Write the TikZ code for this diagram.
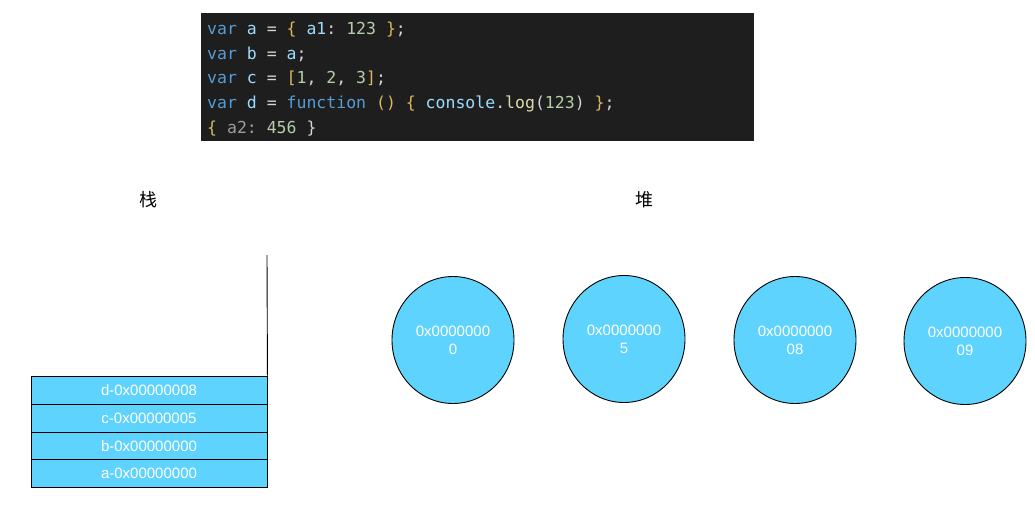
\documentclass[tikz,border=0pt]{standalone}
\usepackage{fontspec}
\usetikzlibrary{shapes.geometric}
\setmainfont{Liberation Sans}
\newfontfamily\cjk{Noto Sans CJK SC}
\newfontfamily\codefont{DejaVu Sans Mono}
\definecolor{codebg}{HTML}{1E1E1E}
\definecolor{ckwc}{HTML}{569CD6}
\definecolor{cidc}{HTML}{9CDCFE}
\definecolor{cnumc}{HTML}{B5CEA8}
\definecolor{cpunc}{HTML}{D4D4D4}
\definecolor{cbrc}{HTML}{D9B95C}
\definecolor{cfnc}{HTML}{DCDCAA}
\definecolor{cgrc}{HTML}{9D9D9D}
\definecolor{cellfill}{RGB}{94,211,253}
\newcommand\ckw[1]{\textcolor{ckwc}{#1}}
\newcommand\cid[1]{\textcolor{cidc}{#1}}
\newcommand\cnum[1]{\textcolor{cnumc}{#1}}
\newcommand\cpun[1]{\textcolor{cpunc}{#1}}
\newcommand\cbr[1]{\textcolor{cbrc}{#1}}
\newcommand\cfn[1]{\textcolor{cfnc}{#1}}
\newcommand\cgr[1]{\textcolor{cgrc}{#1}}
\frenchspacing
\begin{document}
\begin{tikzpicture}[x=1pt,y=-1pt,
  codeline/.style={anchor=base west,inner sep=0pt,font=\codefont\fontsize{16.5}{20}\selectfont\frenchspacing},
  cell/.style={draw=black,line width=0.9pt,fill=cellfill,minimum width=236pt,minimum height=28pt,inner sep=0pt,text=white,font=\fontsize{15}{18}\selectfont},
  heap/.style={ellipse,draw=black,line width=0.9pt,fill=cellfill,minimum width=122pt,minimum height=127pt,inner sep=0pt,text=white,align=center,font=\fontsize{15}{18}\selectfont},
  title/.style={font=\cjk\fontsize{18}{20}\selectfont,inner sep=0pt}]
\useasboundingbox[fill=white] (0,0) rectangle (1035,505);
% code block
\node[fill=codebg,minimum width=553pt,minimum height=128pt,inner sep=0pt,anchor=north west] (codebox) at (201,13) {};
\node[codeline] (c1) at (207,34.5) {\ckw{var} \cid{a} \cpun{=} \cbr{\{} \cid{a1}\cpun{:} \cnum{123} \cbr{\}}\cpun{;}};
\node[codeline] (c2) at (207,59.2) {\ckw{var} \cid{b} \cpun{=} \cid{a}\cpun{;}};
\node[codeline] (c3) at (207,83.9) {\ckw{var} \cid{c} \cpun{=} \cbr{[}\cnum{1}\cpun{,} \cnum{2}\cpun{,} \cnum{3}\cbr{]}\cpun{;}};
\node[codeline] (c4) at (207,108.6) {\ckw{var} \cid{d} \cpun{=} \ckw{function} \cbr{()} \cbr{\{} \cid{console}\cpun{.}\cfn{log}\cpun{(}\cnum{123}\cpun{)} \cbr{\}}\cpun{;}};
\node[codeline] (c5) at (207,133.3) {\cbr{\{} \cgr{a2:} \cnum{456} \cpun{\}}};
% titles
\node[title] (zhan) at (148,200) {栈};
\node[title] (dui) at (644,200) {堆};
% stack
\node[cell] (s1) at (149,390) {d-0x00000008};
\node[cell] (s2) at (149,418) {c-0x00000005};
\node[cell] (s3) at (149,446) {b-0x00000000};
\node[cell] (s4) at (149,473.5) {a-0x00000000};
\coordinate (stacktop) at (267,255);
\draw[line width=0.9pt] (stacktop) -- (s1.north east);
% heap
\node[heap] (h1) at (453,340) {0x0000000\\0};
\node[heap] (h2) at (624,339) {0x0000000\\5};
\node[heap] (h3) at (795,340) {0x0000000\\08};
\node[heap] (h4) at (965,341) {0x0000000\\09};
\end{tikzpicture}
\end{document}
